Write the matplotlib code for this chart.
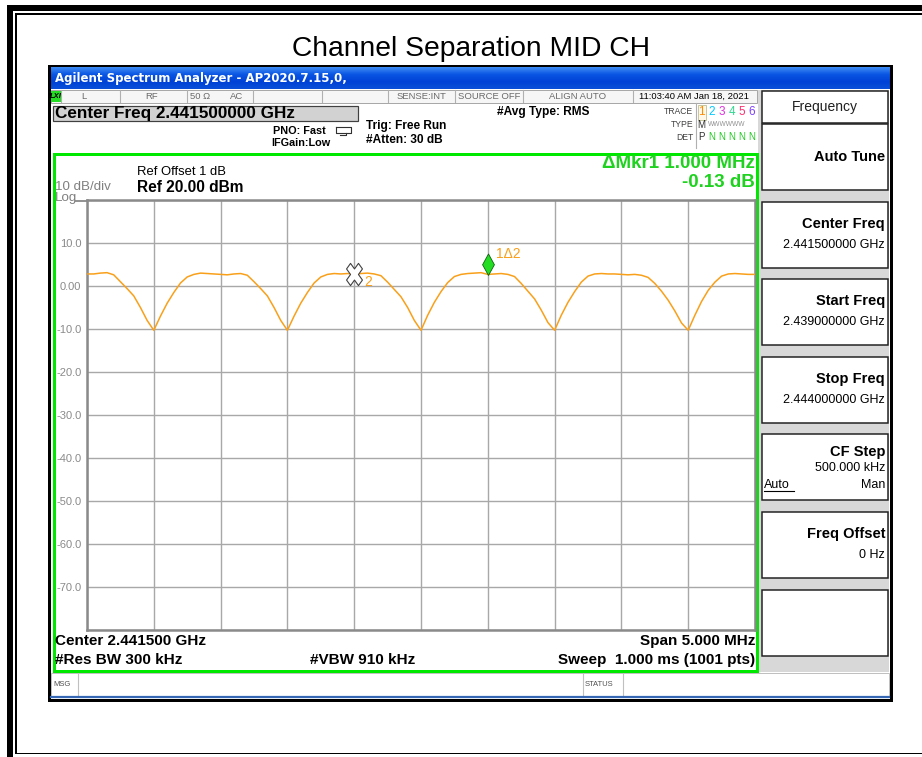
import numpy as np
import matplotlib.pyplot as plt
from matplotlib.patches import Rectangle
from matplotlib.path import Path
from matplotlib.markers import MarkerStyle
from matplotlib.transforms import Affine2D
from matplotlib.colors import LinearSegmentedColormap
from matplotlib import font_manager as fm

plt.rcParams['font.family'] = ['Liberation Sans', 'DejaVu Sans']
_names = {f.name for f in fm.fontManager.ttflist}
NARROW = 'Liberation Sans Narrow' if 'Liberation Sans Narrow' in _names else 'Liberation Sans'

# ---- trace data (MHz, dBm), 2.439 GHz .. 2.444 GHz
freq_mhz = np.linspace(2439.0, 2444.0, 101)
level_db = [2.8, 2.8, 3.0, 3.1, 2.6, 1.0, -0.6, -2.3, -5.0, -8.0,
            -10.3, -7.0, -4.0, -1.5, 0.7, 2.1, 2.7, 3.0, 2.9, 2.8,
            2.7, 2.6, 2.8, 2.9, 2.5, 1.0, -0.6, -2.3, -5.0, -8.0,
            -10.3, -7.0, -4.0, -1.5, 0.7, 2.1, 2.7, 2.9, 2.8, 2.9,
            2.8, 2.9, 3.0, 2.8, 2.4, 0.9, -0.8, -2.5, -5.0, -8.0,
            -10.3, -6.8, -3.8, -1.3, 0.8, 2.2, 2.7, 2.9, 3.0, 3.1,
            2.7, 2.8, 2.9, 2.7, 2.2, 0.6, -1.2, -3.0, -5.6, -8.5,
            -10.3, -6.8, -3.8, -1.3, 0.9, 2.3, 2.8, 2.9, 2.8, 2.8,
            2.7, 2.6, 2.7, 2.5, 2.0, 0.6, -1.2, -3.3, -5.8, -8.6,
            -10.3, -6.8, -3.6, -1.0, 0.9, 2.3, 2.8, 2.9, 2.8, 2.7,
            2.7]

mkr2_freq, mkr2_level = 2441.0, 2.8
mkr1_freq, mkr1_level = 2442.0, 2.67

y_ticks = [-80, -70, -60, -50, -40, -30, -20, -10, 0, 10, 20]
y_labels = ['', '-70.0', '-60.0', '-50.0', '-40.0', '-30.0', '-20.0', '-10.0', '0.00', '10.0', '']
x_ticks = np.arange(2439.0, 2444.01, 0.5)

softkeys = [('Auto Tune', None), ('Center Freq', '2.441500000 GHz'),
            ('Start Freq', '2.439000000 GHz'), ('Stop Freq', '2.444000000 GHz'),
            ('CF Step', '500.000 kHz'), ('Freq Offset', '0 Hz'), ('', None)]

W, H = 922, 757
fig = plt.figure(figsize=(W / 100, H / 100), dpi=100)
bg = fig.add_axes([0, 0, 1, 1])
bg.set_xlim(0, W)
bg.set_ylim(H, 0)
bg.axis('off')


def box(x0, y0, x1, y1, fc='none', ec='none', lw=1.0, z=1):
    bg.add_patch(Rectangle((x0, y0), x1 - x0, y1 - y0, facecolor=fc,
                           edgecolor=ec, linewidth=lw * 0.72, zorder=z))


def txt(x, y, s, size=9, ha='left', color='black', weight='normal', z=5, family=None, **kw):
    kw2 = dict(ha=ha, va='center', fontsize=size, color=color, fontweight=weight, zorder=z)
    if family:
        kw2['family'] = family
    kw2.update(kw)
    return bg.text(x, y, s, **kw2)


# outer double frame
box(7, 5, 922, 11, fc='black')
box(7, 5, 12.5, 757, fc='black')
box(15, 13, 922, 15, fc='black')
box(15, 13, 16.5, 754, fc='black')
box(15, 752.5, 922, 754, fc='black')

txt(471, 49.5, 'Channel Separation MID CH', size=20.3, ha='center')

# analyzer window
box(49, 66, 890.5, 699.5, fc='white', ec='black', lw=3, z=1)
grad = np.linspace(0, 1, 40).reshape(-1, 1)
cmap = LinearSegmentedColormap.from_list('xp', ['#3d8cf5', '#0a55e3', '#0042d6', '#0a4fd8'])
bg.imshow(grad, extent=(50.5, 889, 89, 67.5), cmap=cmap, aspect='auto', zorder=2)
bg.set_xlim(0, W)
bg.set_ylim(H, 0)
txt(55, 78.5, 'Agilent Spectrum Analyzer - AP2020.7.15,0,', size=8.5, color='white',
    weight='bold', family='DejaVu Sans', z=3)

# status row
box(50.5, 89.5, 757, 102.5, fc='#f6f6f6', ec='#a8a8a8', lw=1, z=2)
for xd in [61, 120, 187, 253, 322, 388, 455, 523, 633]:
    bg.plot([xd, xd], [90, 102], color='#b0b0b0', lw=0.8, zorder=3)
box(51, 91, 60.5, 101.5, fc='#22dd22', z=3)
txt(55.7, 96.3, 'LXI', size=5.5, ha='center', weight='bold', style='italic', z=4)
gray = '#6a6a6a'
for xc, s in [(84, 'L'), (152, 'RF'), (200, '50 Ω'), (237, 'AC'), (421, 'SENSE:INT'),
              (489, 'SOURCE OFF'), (578, 'ALIGN AUTO')]:
    txt(xc, 96.5, s, size=6.8, ha='center', color=gray, z=4)
txt(694, 96.5, '11:03:40 AM Jan 18, 2021', size=6.8, ha='center', z=4)

# header info
box(53, 105.5, 358, 120.5, fc='#d2d2d2', ec='#404040', lw=1.2, z=2)
txt(55, 113.5, 'Center Freq 2.441500000 GHz', size=12.3, weight='bold', z=3)
txt(326, 130.5, 'PNO: Fast', size=7.8, ha='right', weight='bold')
txt(330, 142.5, 'IFGain:Low', size=7.8, ha='right', weight='bold')
bg.plot([336, 351, 351, 336, 336], [127, 127, 132.5, 132.5, 127], color='#303030', lw=0.8, zorder=4)
bg.plot([340, 346, 346], [135, 135, 132.5], color='#303030', lw=0.8, zorder=4)
txt(366, 125.5, 'Trig: Free Run', size=8.6, weight='bold')
txt(366, 140, '#Atten: 30 dB', size=8.6, weight='bold')
txt(497, 111.5, '#Avg Type: RMS', size=8.6, weight='bold')
for yy, s in [(112, 'TRACE'), (124.5, 'TYPE'), (137, 'DET')]:
    txt(693, yy, s, size=6.2, ha='right', color='#404040')
bg.plot([696, 696], [103, 148], color='#b0b0b0', lw=0.8, zorder=3)
box(697.5, 104.5, 706, 120, fc='#fff8e8', ec='#c8c8a0', lw=1, z=3)
digit_cols = ['#ff8c00', '#00c8ff', '#e030e0', '#30d890', '#ff3070', '#8040ff']
for k, c in enumerate(digit_cols):
    txt(701.7 + 10 * k, 112.3, str(k + 1), size=8.5, ha='center', color=c)
txt(701.7, 124.7, 'M', size=7, ha='center', color='#303030')
txt(708, 124.7, 'WWWWWW', size=4.8, color='#909090')
txt(701.7, 137, 'P', size=7, ha='center', color='#303030')
for k in range(5):
    txt(711.7 + 10 * k, 137, 'N', size=7, ha='center', color='#22cc22')

# soft key panel
box(757.5, 89.5, 889, 672, fc='#d8d8d8', z=1.5)
box(761.5, 91, 887.5, 123, fc='white', ec='#202020', lw=1.5, z=2)
txt(825, 106.5, 'Frequency', size=10, ha='center', color='#202020')
for k, (lab, val) in enumerate(softkeys):
    top = 124 + 77.6 * k
    bot = min(top + 66, 671)
    box(761.5, top, 887.5, bot, fc='white', ec='#202020', lw=1.5, z=2)
    if not lab:
        continue
    if lab == 'CF Step':
        txt(885, top + 17.5, lab, size=10.5, ha='right', weight='bold')
        txt(885, top + 33.5, val, size=9, ha='right')
        txt(764, top + 50.5, 'Auto', size=9, ha='left')
        bg.plot([764, 794], [top + 57, top + 57], color='black', lw=0.8, zorder=5)
        txt(885, top + 50.5, 'Man', size=9, ha='right')
    elif val is None:
        txt(885, top + 33, lab, size=10.5, ha='right', weight='bold')
    else:
        txt(885, top + 22, lab, size=10.5, ha='right', weight='bold')
        txt(885, top + 43, val, size=9, ha='right')

# msg bar
box(50.5, 672.5, 888.5, 696, fc='white', ec='#c0c0c0', lw=1, z=2)
bg.plot([78, 78], [673, 695], color='#c0c0c0', lw=0.8, zorder=3)
bg.plot([583, 583], [673, 695], color='#c0c0c0', lw=0.8, zorder=3)
bg.plot([623, 623], [673, 695], color='#c0c0c0', lw=0.8, zorder=3)
txt(53, 684, 'MSG', size=5.5, color='#505050')
txt(585, 684, 'STATUS', size=5.5, color='#505050')
bg.plot([50.5, 888.5], [696.5, 696.5], color='#3567b5', lw=1.6, zorder=3)

# display frame
box(53.5, 153.5, 757, 671, ec='#00e800', lw=3, z=4)
green = '#1fd21f'
txt(755, 163.5, 'ΔMkr1 1.000 MHz', size=13.5, ha='right', color=green, weight='bold')
txt(755, 182.5, '-0.13 dB', size=13.5, ha='right', color=green, weight='bold')
txt(137, 172, 'Ref Offset 1 dB', size=9.4)
txt(137, 187, 'Ref 20.00 dBm', size=11.2, weight='bold')
txt(55, 187.5, '10 dB/div', size=9.6, color='#808080')
txt(55, 198.5, 'Log', size=9.6, color='#808080')
bg.plot([76, 87], [200.5, 200.5], color='#909090', lw=1.4, zorder=3)

txt(55, 641, 'Center 2.441500 GHz', size=11, weight='bold')
txt(755, 641, 'Span 5.000 MHz', size=11, weight='bold', ha='right')
txt(55, 660, '#Res BW 300 kHz', size=11, weight='bold')
txt(310, 660, '#VBW 910 kHz', size=11, weight='bold')
txt(755, 660, 'Sweep  1.000 ms (1001 pts)', size=11, weight='bold', ha='right')

# graticule
ax = fig.add_axes([87 / W, 1 - 630 / H, (755 - 87) / W, 430 / H])
ax.set_facecolor('white')
ax.set_xlim(2439.0, 2444.0)
ax.set_ylim(-80, 20)
ax.set_xticks(x_ticks)
ax.set_xticklabels([])
ax.set_yticks(y_ticks)
ax.set_yticklabels(y_labels)
ax.tick_params(length=0, pad=4, labelsize=8, labelcolor='#8a8a8a')
ax.grid(True, color='#a8a8a8', lw=1.0)
for sp in ax.spines.values():
    sp.set_color('#8a8a8a')
    sp.set_linewidth(1.8)

orange = '#f9a01a'
ax.plot(freq_mhz, level_db, color=orange, lw=1.1, zorder=3)

xpath = MarkerStyle('X').get_path().transformed(Affine2D().scale(1.0, 1.4))
ax.plot([mkr2_freq], [mkr2_level], marker=xpath, ms=16, mfc='white', mec='#404040',
        mew=0.8, zorder=4, clip_on=False)
ax.annotate('2', (mkr2_freq, mkr2_level), xytext=(7, -6), textcoords='offset points',
            color=orange, fontsize=10, ha='left', va='center', zorder=5)

diamond = Path([(0, 0), (0.55, 1), (0, 2), (-0.55, 1), (0, 0)], closed=True)
ax.plot([mkr1_freq], [mkr1_level], marker=diamond, ms=31, mfc='#22dd22', mec='#106010',
        mew=0.6, zorder=5, clip_on=False)
ax.annotate('1Δ2', (mkr1_freq, mkr1_level), xytext=(6, 14.5), textcoords='offset points',
            color=orange, fontsize=10, ha='left', va='center', zorder=5,
            bbox=dict(boxstyle='square,pad=0.15', fc='white', ec='none'))

fig.savefig('out.png', dpi=100)
